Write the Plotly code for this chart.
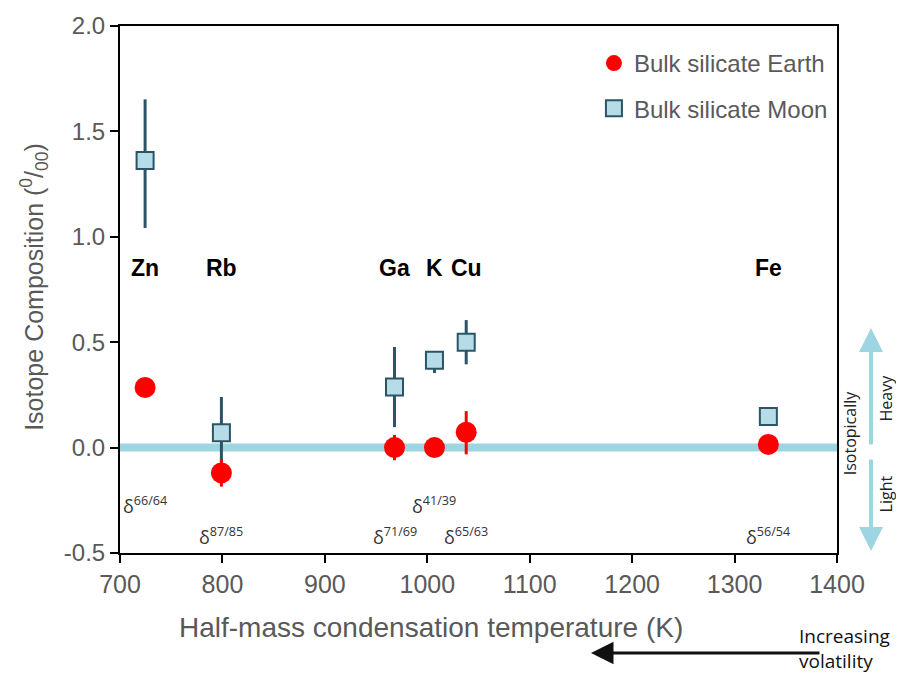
import plotly.graph_objects as go

# ---- data ----
elements = ["Zn", "Rb", "Ga", "K", "Cu", "Fe"]
temps_K = [724.5, 799, 968, 1007, 1038, 1333]
isotope_ratios = ["66/64", "87/85", "71/69", "41/39", "65/63", "56/54"]

earth_vals = [0.285, -0.12, 0.0, 0.0, 0.073, 0.015]
earth_err_plus = [0.0, 0.065, 0.06, 0.0, 0.10, 0.0]
earth_err_minus = [0.0, 0.065, 0.06, 0.0, 0.105, 0.0]

moon_vals = [1.362, 0.07, 0.287, 0.414, 0.50, 0.148]
moon_err_plus = [0.29, 0.17, 0.19, 0.0, 0.105, 0.0]
moon_err_minus = [0.32, 0.17, 0.19, 0.06, 0.105, 0.0]

x_ticks = [700, 800, 900, 1000, 1100, 1200, 1300, 1400]
y_ticks = [-0.5, 0.0, 0.5, 1.0, 1.5, 2.0]
y_tick_text = ["-0.5", "0.0", "0.5", "1.0", "1.5", "2.0"]

x_title = "Half-mass condensation temperature (K)"
y_title = "Isotope Composition (<sup>0</sup>/<sub>00</sub>)"

# ---- style ----
GRAY = "#595959"
CYAN = "#9dd6e0"
TEAL = "#2b5567"
MOON_FILL = "#b5dce7"
RED = "#ff0000"
FONT = "Liberation Sans, Arial, sans-serif"
DELTA_FONT = "Open Sans, Noto Sans, sans-serif"
label_y = 0.85
delta_y_hi = -0.274
delta_y_lo = -0.418
delta_row = [delta_y_hi, delta_y_lo, delta_y_lo, delta_y_hi, delta_y_lo, delta_y_lo]

fig = go.Figure()

fig.add_shape(type="line", xref="paper", yref="y", x0=0, x1=1, y0=0, y1=0,
              line=dict(color=CYAN, width=8), layer="below")

fig.add_trace(go.Scatter(
    x=temps_K, y=moon_vals, mode="markers", name="Bulk silicate Moon",
    legendgroup="moon", legendrank=2,
    marker=dict(symbol="square", size=17, color=MOON_FILL,
                line=dict(color=TEAL, width=2)),
    error_y=dict(type="data", symmetric=False, array=moon_err_plus,
                 arrayminus=moon_err_minus, color=TEAL, thickness=3, width=0),
))
fig.add_trace(go.Scatter(
    x=temps_K, y=earth_vals, mode="markers", name="Bulk silicate Earth",
    legendgroup="earth", legendrank=1,
    marker=dict(symbol="circle", size=21, color=RED, line=dict(width=0)),
    error_y=dict(type="data", symmetric=False, array=earth_err_plus,
                 arrayminus=earth_err_minus, color=RED, thickness=3, width=0),
))

annotations = []
for el, t in zip(elements, temps_K):
    annotations.append(dict(x=t, y=label_y, xref="x", yref="y", text=f"<b>{el}</b>",
                            showarrow=False, font=dict(family=FONT, size=23, color="black")))
for r, t, yy in zip(isotope_ratios, temps_K, delta_row):
    annotations.append(dict(x=t, y=yy, xref="x", yref="y",
                            text=f"δ<sup>{r}</sup>", showarrow=False,
                            font=dict(family=DELTA_FONT, size=18, color="#333333")))

side_font = dict(family=DELTA_FONT, size=16, color="#222222")
annotations += [
    # axis titles
    dict(x=0.434, y=-0.1423, xref="paper", yref="paper", text=x_title,
         xanchor="center", yanchor="middle", showarrow=False,
         font=dict(family=FONT, size=28, color=GRAY)),
    dict(x=-0.12, y=0.505, xref="paper", yref="paper", text=y_title, textangle=-90,
         xanchor="center", yanchor="middle", showarrow=False,
         font=dict(family=FONT, size=25, color=GRAY)),
    # right-side isotopically heavy/light arrows
    dict(x=1.0474, y=0.4269, xref="paper", yref="paper", ax=0, ay=118, text="",
         showarrow=True, arrowhead=2, arrowsize=1.2, arrowwidth=4, arrowcolor=CYAN),
    dict(x=1.0474, y=0.0038, xref="paper", yref="paper", ax=0, ay=-93, text="",
         showarrow=True, arrowhead=2, arrowsize=1.2, arrowwidth=4, arrowcolor=CYAN),
    dict(x=1.0181, y=0.229, xref="paper", yref="paper", text="Isotopically", textangle=-90,
         xanchor="center", yanchor="middle", showarrow=False, font=side_font),
    dict(x=1.0690, y=0.294, xref="paper", yref="paper", text="Heavy", textangle=-90,
         xanchor="center", yanchor="middle", showarrow=False, font=side_font),
    dict(x=1.0690, y=0.112, xref="paper", yref="paper", text="Light", textangle=-90,
         xanchor="center", yanchor="middle", showarrow=False, font=side_font),
    # bottom volatility arrow
    dict(x=0.6569, y=-0.1898, xref="paper", yref="paper", ax=230, ay=0, text="",
         showarrow=True, arrowhead=2, arrowsize=1.5, arrowwidth=3, arrowcolor="#111111"),
    dict(x=0.944, y=-0.129, xref="paper", yref="paper", xanchor="left", yanchor="top",
         align="left", text="Increasing<br>volatility", showarrow=False,
         font=dict(family=DELTA_FONT, size=19, color="#111111")),
]

fig.update_layout(
    width=904, height=675,
    margin=dict(l=112, r=75, t=18, b=130),
    plot_bgcolor="white", paper_bgcolor="white",
    font=dict(family=FONT, color=GRAY),
    showlegend=True,
    legend=dict(x=0.661, y=0.9715, xanchor="left", yanchor="top",
                font=dict(family=FONT, size=24, color=GRAY),
                bgcolor="rgba(0,0,0,0)", tracegroupgap=11, itemwidth=30),
    annotations=annotations,
)
fig.update_xaxes(range=[700, 1400], tickvals=x_ticks, ticks="outside", ticklen=8,
                 tickwidth=2, tickcolor="black", showline=True, linecolor="black",
                 linewidth=2, mirror=True, showgrid=False, zeroline=False,
                 automargin=False, tickfont=dict(size=25, color=GRAY))
fig.update_yaxes(range=[-0.5, 2.0], tickvals=y_ticks, ticktext=y_tick_text, ticks="outside",
                 ticklen=8, tickwidth=2, tickcolor="black", showline=True, linecolor="black",
                 linewidth=2, mirror=True, showgrid=False, zeroline=False,
                 automargin=False, tickfont=dict(size=24, color=GRAY))

fig.write_html("out.html")
